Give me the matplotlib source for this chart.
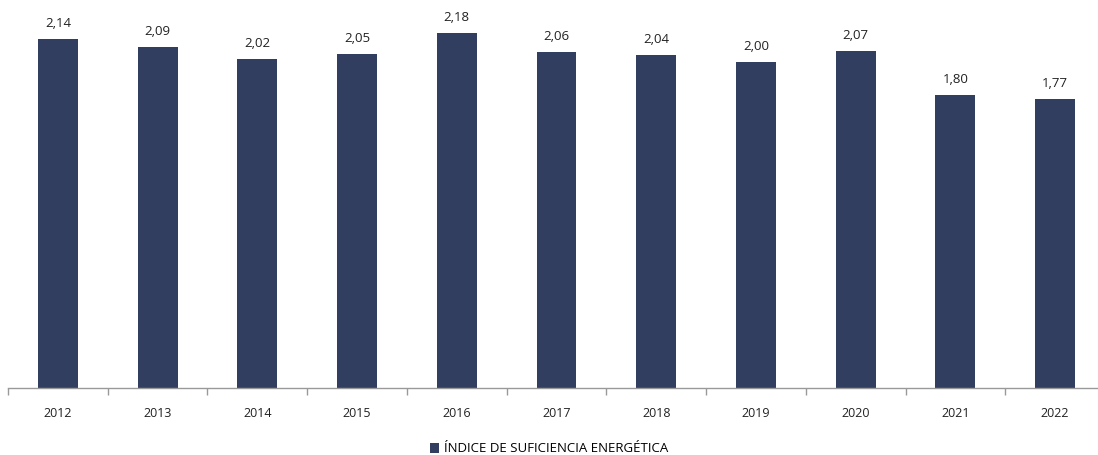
import numpy as np
import matplotlib.pyplot as plt
from matplotlib.patches import Patch

years = ['2012', '2013', '2014', '2015', '2016', '2017', '2018', '2019', '2020', '2021', '2022']
values = [2.14, 2.09, 2.02, 2.05, 2.18, 2.06, 2.04, 2.00, 2.07, 1.80, 1.77]
series_name = 'ÍNDICE DE SUFICIENCIA ENERGÉTICA'

bar_color = '#323E60'
plt.rcParams['font.family'] = ['Open Sans', 'DejaVu Sans']

fig = plt.figure(figsize=(10.98, 4.55), dpi=100)
ax = fig.add_axes([8 / 1098, 67 / 455, 1097 / 1098, 388 / 455])

x = np.arange(len(years))
bars = ax.bar(x, values, width=0.4, color=bar_color, zorder=2)

for xi, v in zip(x, values):
    ax.text(xi, v + 0.055, f'{v:.2f}'.replace('.', ','), ha='center', va='bottom',
            fontsize=9.5, color='#222222')

ax.set_xlim(-0.5, len(years) - 0.5)
ax.set_ylim(0, 2.38)
ax.set_yticks([])
ax.set_xticks(x)
ax.set_xticklabels(years, fontsize=9, color='#222222')
ax.tick_params(axis='x', which='major', length=0, pad=14)
ax.set_xticks(np.arange(-0.5, len(years) + 0.5, 1), minor=True)
ax.tick_params(axis='x', which='minor', length=5, color='#999999', width=1)

for side in ['top', 'right', 'left']:
    ax.spines[side].set_visible(False)
ax.spines['bottom'].set_color('#999999')
ax.spines['bottom'].set_linewidth(1)

handle = Patch(facecolor=bar_color, label=series_name)
fig.legend(handles=[handle], loc='center', bbox_to_anchor=(0.5, 1 - 449 / 455),
           frameon=False, fontsize=9.5, handlelength=0.7, handleheight=0.7,
           handletextpad=0.4)

fig.savefig('out.png', dpi=100)
